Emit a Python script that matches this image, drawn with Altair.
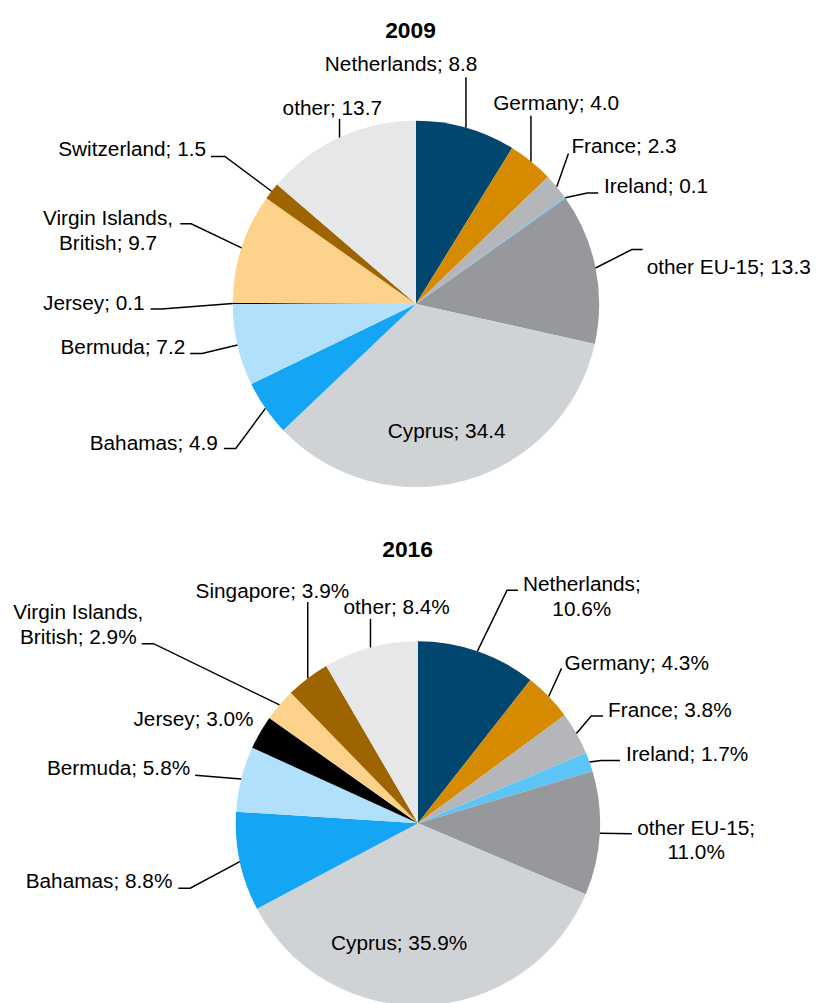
import math
import altair as alt
import pandas as pd

# ---------------- data ----------------
names_2009 = ["Netherlands", "Germany", "France", "Ireland", "other EU-15", "Cyprus",
              "Bahamas", "Bermuda", "Jersey", "Virgin Islands, British", "Switzerland", "other"]
values_2009 = [8.8, 4.0, 2.3, 0.1, 13.3, 34.4, 4.9, 7.2, 0.1, 9.7, 1.5, 13.7]

names_2016 = ["Netherlands", "Germany", "France", "Ireland", "other EU-15", "Cyprus",
              "Bahamas", "Bermuda", "Jersey", "Virgin Islands, British", "Singapore", "other"]
values_2016 = [10.6, 4.3, 3.8, 1.7, 11.0, 35.9, 8.8, 5.8, 3.0, 2.9, 3.9, 8.4]

years = ["2009", "2016"]
value_formats = {"2009": "{:.1f}", "2016": "{:.1f}%"}

color_domain = ["Netherlands", "Germany", "France", "Ireland", "other EU-15", "Cyprus",
                "Bahamas", "Bermuda", "Jersey", "Virgin Islands, British",
                "Switzerland", "Singapore", "other"]
color_range = ["#00466e", "#d68a00", "#b5b6b9", "#5cc4f6", "#97989b", "#d0d3d6",
               "#14a6f5", "#b0e0fc", "#000000", "#fdd28a",
               "#9e6400", "#9e6400", "#e6e7e9"]

# ---------------- layout (page pixel coordinates) ----------------
CENTER = {"2009": (420, 302), "2016": (422, 826.5)}
RADIUS = {"2009": 185, "2016": 184}
TITLE_POS = {"2009": (414.5, 33), "2016": (411.5, 558)}

# align, text x, first-line baseline y, line break after, leader points (None = keep x)
LABELS = {
    ("2009", "Netherlands"): ("center", 405, 67, None, [(None, 73)]),
    ("2009", "Germany"): ("left", 498, 106, None, [(None, 112)]),
    ("2009", "France"): ("left", 577, 150, None, [(574, 150)]),
    ("2009", "Ireland"): ("left", 610, 190, None, [(593, 190), (604, 190)]),
    ("2009", "other EU-15"): ("left", 653, 272, None, [(638, 247), (649, 247)]),
    ("2009", "Cyprus"): ("center", 451, 437, None, []),
    ("2009", "Bahamas"): ("right", 220, 449, None, [(238, 448), (226, 448)]),
    ("2009", "Bermuda"): ("right", 187, 353, None, [(204, 352), (192, 352)]),
    ("2009", "Jersey"): ("right", 146, 308, None, [(163, 307), (152, 307)]),
    ("2009", "Virgin Islands, British"): ("center", 109, 222, "Islands,", [(193, 221), (182, 221)]),
    ("2009", "Switzerland"): ("right", 208, 153, None, [(227, 153), (213, 153)]),
    ("2009", "other"): ("center", 335.5, 111, None, [(None, 115)]),
    ("2016", "Netherlands"): ("center", 587.5, 592, "Netherlands;", [(512, 591), (523, 591)]),
    ("2016", "Germany"): ("left", 570, 672, None, [(567, 670)]),
    ("2016", "France"): ("left", 614, 719, None, [(597, 718), (609, 718)]),
    ("2016", "Ireland"): ("left", 632, 764, None, [(607, 763), (626, 763)]),
    ("2016", "other EU-15"): ("center", 703, 838, "EU-15;", [(638, 837)]),
    ("2016", "Cyprus"): ("center", 403, 954, None, []),
    ("2016", "Bahamas"): ("right", 174, 892, None, [(192, 892), (180, 892)]),
    ("2016", "Bermuda"): ("right", 192, 778, None, [(197, 778)]),
    ("2016", "Jersey"): ("right", 256, 728, None, []),
    ("2016", "Virgin Islands, British"): ("center", 79, 620, "Islands,", [(155, 645), (143, 645)]),
    ("2016", "Singapore"): ("center", 275, 599, None, [(None, 603)]),
    ("2016", "other"): ("center", 400.5, 615, None, [(None, 620)]),
}

FONT = "Liberation Sans, Arial, Helvetica, sans-serif"
FONT_SIZE = 21
TITLE_SIZE = 23
LINE_HEIGHT = 25

# ---------------- build tables ----------------
series = {"2009": (names_2009, values_2009), "2016": (names_2016, values_2016)}

arc_rows, text_rows, line_rows = [], [], []
for yr in years:
    names, vals = series[yr]
    total = sum(vals)
    cx, cy = CENTER[yr]
    r = RADIUS[yr]
    cum = 0.0
    for i, (n, v) in enumerate(zip(names, vals)):
        f0 = cum / total
        cum += v
        f1 = cum / total
        arc_rows.append({"year": yr, "name": n, "value": v, "f0": f0, "f1": f1,
                         "cx": cx, "cy": cy, "r": r, "order": i})
        align, tx, ty, brk, leader = LABELS[(yr, n)]
        label = n + "; " + value_formats[yr].format(v)
        if brk:
            k = label.index(brk) + len(brk)
            label = label[:k] + "\n" + label[k:].lstrip()
        text_rows.append({"year": yr, "name": n, "label": label, "tx": tx, "ty": ty,
                          "align": align})
        if leader:
            mid = (f0 + f1) / 2 * 2 * math.pi
            px = cx + r * math.sin(mid)
            py = cy - r * math.cos(mid)
            key = yr + "|" + n
            pts = [(px, py)]
            for (lx, ly) in leader:
                pts.append((pts[-1][0] if lx is None else lx, ly))
            for s, (lx, ly) in enumerate(pts):
                line_rows.append({"key": key, "seq": s, "lx": lx, "ly": ly})

arcs = pd.DataFrame(arc_rows)
texts = pd.DataFrame(text_rows)
lines = pd.DataFrame(line_rows)
titles = pd.DataFrame([{"t": yr, "tx": TITLE_POS[yr][0], "ty": TITLE_POS[yr][1]} for yr in years])

W, H = 816, 995
xs = alt.Scale(domain=[8, 8 + W], nice=False, zero=False)
ys = alt.Scale(domain=[8, 8 + H], nice=False, zero=False, reverse=True)

pie = alt.Chart(arcs).mark_arc(stroke=None).encode(
    x=alt.X("cx:Q", scale=xs, axis=None),
    y=alt.Y("cy:Q", scale=ys, axis=None),
    theta=alt.Theta("f0:Q", scale=alt.Scale(domain=[0, 1], range=[0, 2 * math.pi])),
    theta2=alt.Theta2("f1:Q"),
    radius=alt.Radius("r:Q", scale=None),
    color=alt.Color("name:N", scale=alt.Scale(domain=color_domain, range=color_range), legend=None),
    order=alt.Order("order:Q"),
)

leaders = alt.Chart(lines).mark_line(color="black", strokeWidth=1.5).encode(
    x=alt.X("lx:Q", scale=xs, axis=None),
    y=alt.Y("ly:Q", scale=ys, axis=None),
    detail="key:N",
    order="seq:Q",
)

def text_layer(align):
    return alt.Chart(texts).transform_filter(alt.datum.align == align).mark_text(
        align=align, baseline="alphabetic", font=FONT, fontSize=FONT_SIZE,
        lineBreak="\n", lineHeight=LINE_HEIGHT, color="black",
    ).encode(
        x=alt.X("tx:Q", scale=xs, axis=None),
        y=alt.Y("ty:Q", scale=ys, axis=None),
        text="label:N",
    )

title_layer = alt.Chart(titles).mark_text(
    align="center", baseline="alphabetic", font=FONT, fontSize=TITLE_SIZE, fontWeight="bold",
    color="black"
).encode(
    x=alt.X("tx:Q", scale=xs, axis=None),
    y=alt.Y("ty:Q", scale=ys, axis=None),
    text="t:N",
)

chart = alt.layer(
    pie, leaders, text_layer("left"), text_layer("center"), text_layer("right"), title_layer
).properties(
    width=W, height=H, padding=0,
    autosize=alt.AutoSizeParams(type="none"),
).configure_view(stroke=None)

chart.save("out.html", embed_options={"renderer": "svg", "actions": False})
